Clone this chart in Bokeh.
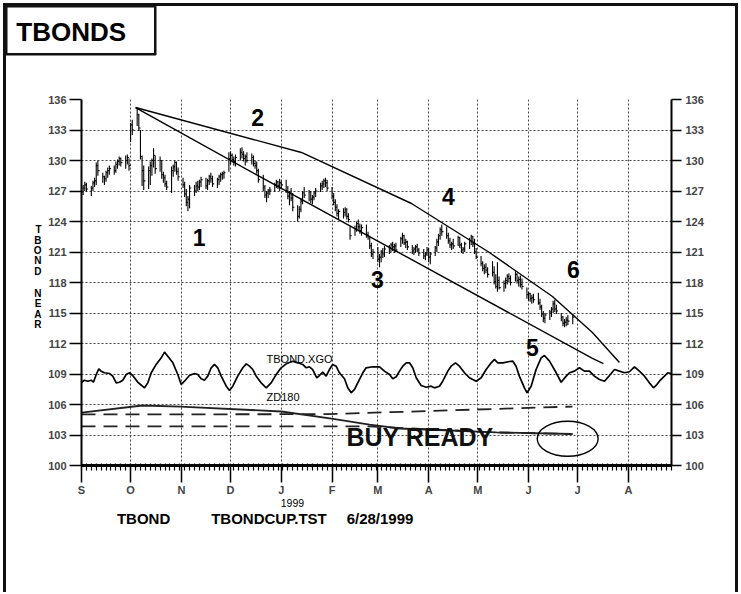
import pandas as pd
from bokeh.plotting import figure
from bokeh.models import Range1d, FixedTicker, LinearAxis, Label, Grid
from bokeh.embed import file_html
from bokeh.resources import INLINE

FONT = "Liberation Sans"
ORIGIN = pd.Timestamp("1998-09-01")

MONTH_STARTS = ["1998-09-01", "1998-10-01", "1998-11-01", "1998-12-01", "1999-01-01", "1999-02-01",
                "1999-03-01", "1999-04-01", "1999-05-01", "1999-06-01", "1999-07-01", "1999-08-01"]
MONTH_LABELS = ["S", "O", "N", "D", "J", "F", "M", "A", "M", "J", "J", "A"]
Y_TICKS = list(range(100, 137, 3))

# daily TBOND bars, Sep 1 1998 .. Jun 28 1999 (one row per month)
HIGH = [
    127.2, 127.6, 127.9, 127.8, 127.5, 128.0, 128.3, 129.8, 130.0, 128.8, 128.5, 129.0, 129.3, 129.5, 129.5, 129.9, 130.1, 130.4, 130.3, 130.5, 130.6, 130.2,
    133.7, 134.0, 135.2, 134.6, 133.0, 130.5, 129.5, 129.4, 129.9, 130.2, 131.2, 130.5, 130.4, 130.0, 128.9, 128.6, 128.0, 129.4, 129.6, 130.0, 129.9, 129.3,
    128.3, 127.9, 127.2, 126.5, 127.6, 127.6, 127.9, 128.0, 128.1, 128.4, 128.3, 128.2, 128.6, 128.8, 128.5, 128.3, 128.6, 128.8, 128.9, 129.0, 130.8,
    130.9, 130.7, 130.4, 130.6, 131.2, 131.3, 130.9, 130.6, 130.8, 130.7, 130.5, 130.0, 129.9, 129.2, 128.6, 127.6, 127.0, 127.2, 127.4, 127.8, 128.1, 128.0, 128.2,
    128.0, 128.1, 127.5, 127.0, 127.3, 126.8, 125.6, 125.5, 126.3, 127.0, 127.4, 127.1, 127.0, 126.6, 127.0, 127.3, 127.8, 128.0, 128.2, 128.3, 128.1,
    127.4, 126.8, 126.2, 125.7, 125.2, 125.3, 125.4, 125.3, 124.8, 123.5, 123.6, 124.0, 124.2, 123.8, 123.7, 123.7, 123.0, 122.6, 121.9, 121.3,
    121.5, 120.8, 121.2, 121.4, 121.6, 121.7, 121.9, 122.0, 121.8, 121.9, 122.5, 122.9, 122.7, 122.3, 122.1, 121.7, 121.5, 121.7, 121.8, 121.4, 121.3, 121.0, 121.5,
    121.4, 121.0, 121.6, 122.3, 122.8, 123.4, 123.7, 123.5, 122.9, 122.4, 122.0, 122.3, 122.6, 122.5, 121.9, 121.5, 122.0, 122.4, 122.7, 122.6, 122.3, 121.4,
    120.6, 120.1, 119.8, 119.9, 119.5, 120.1, 119.6, 118.8, 120.0, 118.6, 118.2, 118.5, 118.8, 118.9, 118.7, 119.1, 118.9, 118.6, 118.7, 118.4, 117.5,
    117.1, 117.0, 116.8, 116.9, 117.0, 116.4, 115.8, 115.2, 115.0, 115.3, 115.6, 116.2, 116.3, 115.8, 115.0, 114.7, 114.4, 114.6, 114.8, 114.9,
]
LOW = [
    126.3, 126.6, 127.0, 126.9, 126.5, 127.0, 127.4, 127.6, 128.5, 127.8, 127.6, 127.9, 128.3, 128.6, 128.6, 128.8, 129.2, 129.5, 129.4, 129.2, 129.6, 129.0,
    131.8, 132.5, 133.4, 132.9, 130.1, 127.5, 127.1, 127.2, 127.6, 128.5, 129.3, 128.7, 128.9, 128.2, 127.8, 127.4, 127.1, 126.8, 128.4, 128.9, 128.6, 128.0,
    127.3, 126.4, 125.5, 125.0, 125.3, 126.5, 126.8, 127.0, 127.1, 127.4, 127.2, 127.1, 127.6, 127.8, 127.4, 127.3, 127.6, 127.9, 128.1, 128.2, 128.9,
    129.6, 129.8, 129.5, 129.4, 130.0, 130.2, 129.9, 129.5, 129.8, 129.6, 129.4, 129.2, 128.7, 127.8, 127.0, 126.3, 125.9, 126.3, 126.6, 126.9, 127.3, 127.2, 127.0,
    127.2, 126.8, 126.2, 125.6, 126.0, 125.0, 124.0, 124.3, 124.9, 125.7, 126.3, 126.0, 125.8, 125.7, 126.1, 126.4, 126.9, 127.1, 127.3, 127.4, 127.0,
    126.2, 125.6, 125.0, 124.5, 124.2, 124.3, 124.5, 124.2, 123.9, 122.2, 122.6, 123.0, 123.2, 122.8, 122.6, 122.4, 122.2, 121.3, 120.5, 120.3,
    120.0, 119.5, 120.0, 120.4, 120.5, 120.8, 121.0, 121.1, 120.9, 121.0, 121.5, 121.8, 121.7, 121.4, 121.2, 120.8, 120.7, 120.9, 121.0, 120.6, 120.3, 120.2, 120.6,
    120.0, 119.8, 120.6, 121.0, 121.6, 122.2, 122.6, 122.3, 121.8, 121.4, 121.2, 121.3, 121.6, 121.4, 120.9, 120.8, 121.0, 121.3, 121.7, 121.5, 120.8, 120.3,
    119.6, 119.1, 118.8, 118.9, 118.5, 118.6, 117.8, 117.4, 117.1, 117.3, 117.1, 117.4, 117.8, 118.0, 117.7, 118.1, 117.9, 117.6, 117.5, 117.3, 116.4,
    116.2, 116.1, 115.9, 116.0, 115.8, 115.3, 114.6, 114.1, 114.0, 114.3, 114.6, 115.0, 115.1, 114.9, 114.2, 113.7, 113.6, 113.7, 113.8, 113.9,
]
CLOSE = [
    126.9, 127.3, 127.6, 127.2, 127.3, 127.8, 128.0, 129.5, 129.0, 128.4, 128.2, 128.8, 129.0, 129.2, 129.0, 129.6, 129.9, 130.2, 129.8, 130.0, 130.3, 129.5,
    133.5, 133.0, 134.5, 133.2, 130.4, 129.0, 128.0, 129.0, 129.5, 130.0, 130.5, 129.2, 130.0, 128.6, 128.3, 127.7, 127.4, 129.0, 129.4, 129.8, 128.9, 128.4,
    127.6, 126.7, 125.9, 126.2, 127.3, 127.0, 127.5, 127.4, 127.9, 128.1, 127.5, 128.0, 128.4, 128.2, 127.7, 128.1, 128.4, 128.6, 128.7, 128.8, 130.2,
    130.5, 130.1, 129.9, 130.3, 130.8, 130.6, 130.2, 130.4, 130.0, 130.3, 129.7, 129.5, 129.0, 128.1, 127.4, 126.6, 126.8, 127.0, 127.1, 127.6, 127.9, 127.5, 127.8,
    127.6, 127.0, 126.5, 126.8, 126.3, 125.4, 124.5, 125.2, 126.0, 126.8, 126.6, 126.9, 126.2, 126.4, 126.8, 127.0, 127.5, 127.7, 128.0, 127.8, 127.3,
    126.5, 125.9, 125.4, 124.8, 125.0, 124.9, 125.2, 124.5, 124.2, 122.6, 123.3, 123.8, 123.5, 123.1, 123.4, 122.7, 122.5, 121.6, 120.8, 121.0,
    120.3, 120.5, 121.0, 120.8, 121.3, 121.4, 121.7, 121.5, 121.6, 121.2, 122.3, 122.6, 121.9, 122.0, 121.5, 121.1, 121.3, 121.5, 121.2, 120.9, 120.6, 120.8, 121.2,
    120.5, 120.8, 121.4, 122.0, 122.6, 123.2, 123.0, 122.6, 122.1, 121.7, 121.8, 121.6, 122.4, 121.7, 121.2, 121.3, 121.8, 122.1, 122.5, 121.8, 121.0, 120.5,
    119.9, 119.4, 119.5, 119.2, 118.8, 119.0, 118.1, 117.6, 118.2, 117.5, 117.9, 118.2, 118.6, 118.4, 118.0, 118.8, 118.2, 118.3, 117.8, 117.6, 116.8,
    116.9, 116.4, 116.5, 116.3, 116.0, 115.6, 114.9, 114.5, 114.8, 115.1, 115.4, 115.9, 115.4, 115.2, 114.6, 114.0, 114.1, 114.3, 114.2, 114.6,
]

# TBOND.XGO oscillator (days since Sep 1 1998, value)
XGO_DAY = [0, 1.8, 3.9, 5.9, 7.3, 9.0, 10.6, 12.0, 14.0, 17.1, 19.1, 21.2, 23.2, 25.2, 27.3, 29.3, 31.3, 34.4, 38.5, 40.5,
           42.6, 45.6, 48.7, 50.7, 52.7, 55.8, 58.8, 60.9, 62.9, 65.9, 69.0, 71.0, 73.1, 75.1, 77.1, 79.2, 81.2, 83.2, 85.3, 88.4,
           90.4, 92.4, 95.4, 98.5, 100.6, 102.6, 104.6, 106.7, 109.7, 112.8, 115.8, 118.9, 121.9, 125.0, 129.0, 132.1, 135.1, 137.2, 139.2, 141.2,
           143.7, 145.3, 147.3, 149.4, 151.4, 153.4, 155.5, 157.5, 160.6, 162.6, 164.7, 166.7, 168.7, 171.8, 173.8, 177.9, 182.0, 185.0, 188.1, 190.1,
           192.2, 194.2, 196.2, 198.3, 200.3, 202.3, 204.4, 207.4, 210.5, 213.5, 215.5, 218.6, 220.6, 223.7, 225.7, 228.4, 230.8, 233.9, 236.9, 241.0,
           244.1, 247.1, 250.2, 252.2, 254.2, 257.3, 261.3, 263.4, 265.4, 267.4, 270.5, 272.1, 274.6, 277.6, 280.7, 282.7, 285.8, 289.9, 292.9, 296.0,
           298.0, 301.0, 304.1, 307.1, 310.2, 313.2, 316.3, 319.4, 322.4, 325.5, 328.5, 331.6, 334.6, 337.7, 340.7, 343.8, 346.8, 349.3, 350.9, 352.9,
           356.0, 358.0, 360.0]
XGO_VAL = [108.19, 108.39, 108.29, 108.39, 108.19, 108.95, 109.51, 109.28, 109.12, 109.05, 108.79, 108.13, 108.19, 108.39, 108.95, 109.12, 108.85, 108.19, 107.64, 108.13,
           109.12, 109.94, 110.59, 111.15, 110.75, 110.10, 108.95, 107.97, 108.29, 108.85, 109.05, 108.95, 108.53, 108.39, 108.79, 109.61, 109.94, 109.61, 108.79, 107.80,
           107.38, 107.80, 108.79, 109.61, 110.00, 109.77, 109.44, 108.79, 108.13, 107.64, 108.13, 108.95, 109.61, 110.00, 110.26, 110.10, 109.94, 109.61, 109.71, 109.44,
           108.63, 108.85, 109.18, 108.79, 109.44, 109.94, 109.77, 109.12, 108.53, 107.64, 107.15, 107.48, 108.13, 109.12, 109.61, 109.71, 109.71, 109.28, 108.95, 108.53,
           108.73, 109.28, 109.77, 110.10, 110.10, 109.61, 108.63, 107.87, 107.70, 107.80, 107.64, 107.80, 108.29, 109.28, 109.77, 110.10, 109.77, 109.12, 108.63, 108.29,
           108.63, 109.44, 110.10, 110.43, 110.10, 110.10, 110.23, 110.26, 109.77, 108.79, 107.64, 107.15, 107.80, 109.44, 110.59, 110.82, 110.26, 109.12, 108.19, 108.79,
           109.12, 109.28, 109.61, 109.28, 109.28, 108.79, 108.46, 108.29, 108.85, 109.44, 109.28, 109.12, 109.22, 109.71, 109.28, 108.79, 108.13, 107.64, 107.87, 108.29,
           108.79, 109.12, 109.05]

# trend lines drawn from the October top
UPPER_DAY = [33.0, 134.3, 201.5, 249.1, 287.6, 312.0, 328.5]
UPPER_VAL = [135.21, 130.79, 125.77, 120.95, 116.62, 113.08, 110.13]
LOWER_DAY = [33.0, 108.7, 175.9, 312.0, 318.7]
LOWER_VAL = [135.21, 128.43, 122.52, 110.53, 110.03]

# ZD180 solid line and the two dashed bands
ZD_DAY = [0, 37.2, 60.5, 122.1, 152.7, 175.9, 194.2, 253.4, 299.8]
ZD_VAL = [105.20, 105.90, 105.80, 105.31, 104.62, 104.03, 103.64, 103.25, 103.10]
DASH1_DAY = [0, 150.0, 299.8]
DASH1_VAL = [105.02, 105.05, 105.80]
DASH2_DAY = [0, 175.9, 253.4, 299.8]
DASH2_VAL = [103.84, 103.84, 103.25, 103.10]

WAVE_LABELS = ["1", "2", "3", "4", "5", "6"]
WAVE_DAY = [71.8, 107.5, 180.7, 224.1, 275.4, 300.4]
WAVE_VAL = [122.43, 134.23, 118.30, 126.46, 111.61, 119.28]

# axis caption letters (stacked), header and footer texts
YLABEL_LETTERS = ["T", "B", "O", "N", "D", "N", "E", "A", "R"]
YLABEL_POS = [123.21, 122.18, 121.15, 120.12, 119.08, 116.92, 115.89, 114.85, 113.82]
HEADER_TEXT = ["TBONDS\u00a0\u00a0\u00a0"]
HEADER_POS = [0.3]
YEAR_TEXT = ["1999"]
YEAR_POS = [128.8]
FOOTER_TEXT = ["TBOND", "TBONDCUP.TST", "6/28/1999"]
FOOTER_POS = [37.9, 114.5, 182.3]


def day_of(d):
    return (pd.Timestamp(d) - ORIGIN).days


dates = pd.bdate_range("1998-09-01", "1999-06-28")
bar_day = [(d - ORIGIN).days for d in dates]
n = min(len(bar_day), len(HIGH), len(LOW), len(CLOSE))
bar_day = bar_day[:n]

p = figure(width=738, height=592, x_range=Range1d(0, 360.3), y_range=Range1d(100, 136),
           output_backend="svg", toolbar_location=None, title=None,
           x_axis_type=None, y_axis_type=None,
           min_border_left=81, min_border_right=67, min_border_top=99, min_border_bottom=127)
p.outline_line_color = None
p.background_fill_color = "white"
p.border_fill_color = None

# page frame (left, top, right) and the header box, drawn behind the transparent canvas border
LINE = "linear-gradient(#111,#111)"
p.styles = {
    "background": ", ".join([
        f"{LINE} 3px 3px / 3px 100% no-repeat",
        f"{LINE} 3px 3px / calc(100% - 3px) 3px no-repeat",
        f"{LINE} right 0px top 3px / 3px 100% no-repeat",
        f"{LINE} 5px 5px / 151px 2.5px no-repeat",
        f"{LINE} 5px 53px / 151px 2.5px no-repeat",
        f"{LINE} 5px 5px / 2.5px 50px no-repeat",
        f"{LINE} 153.5px 5px / 2.5px 50px no-repeat",
        "white",
    ]),
}

month_ticks = [day_of(m) for m in MONTH_STARTS]


def style_text_axis(ax, size, bold=True, standoff=0):
    ax.axis_line_color = None
    ax.major_tick_line_color = None
    ax.minor_tick_line_color = None
    ax.major_tick_out = 0
    ax.major_tick_in = 0
    ax.minor_tick_out = 0
    ax.minor_tick_in = 0
    ax.major_label_standoff = standoff
    ax.major_label_text_font = FONT
    ax.major_label_text_font_size = size
    ax.major_label_text_font_style = "bold" if bold else "normal"
    ax.major_label_text_color = "black"


header_axis = LinearAxis(ticker=FixedTicker(ticks=HEADER_POS, minor_ticks=[]))
header_axis.major_label_overrides = {t: s for t, s in zip(HEADER_POS, HEADER_TEXT)}
style_text_axis(header_axis, "26px", bold=True, standoff=53)
p.add_layout(header_axis, "above")

xaxis = LinearAxis(ticker=FixedTicker(ticks=month_ticks, minor_ticks=list(range(0, 361, 3))))
xaxis.major_label_overrides = {t: lab for t, lab in zip(month_ticks, MONTH_LABELS)}
xaxis.axis_line_width = 3
xaxis.major_tick_out = 17
xaxis.major_tick_in = 0
xaxis.major_tick_line_width = 1.5
xaxis.minor_tick_out = 5
xaxis.minor_tick_in = 2
xaxis.minor_tick_line_width = 1.2
xaxis.major_label_standoff = 1
xaxis.major_label_text_font = FONT
xaxis.major_label_text_font_size = "11px"
xaxis.major_label_text_font_style = "bold"
p.add_layout(xaxis, "below")

year_axis = LinearAxis(ticker=FixedTicker(ticks=YEAR_POS, minor_ticks=[]))
year_axis.major_label_overrides = {t: s for t, s in zip(YEAR_POS, YEAR_TEXT)}
style_text_axis(year_axis, "10.5px", bold=False, standoff=0)
p.add_layout(year_axis, "below")

footer_axis = LinearAxis(ticker=FixedTicker(ticks=FOOTER_POS, minor_ticks=[]))
footer_axis.major_label_overrides = {t: s for t, s in zip(FOOTER_POS, FOOTER_TEXT)}
style_text_axis(footer_axis, "15px", bold=True, standoff=0)
p.add_layout(footer_axis, "below")

for side, standoff, tick_out in (("left", 3, 12), ("right", 4, 10)):
    ax = LinearAxis(ticker=FixedTicker(ticks=Y_TICKS, minor_ticks=[]))
    ax.axis_line_width = 2
    ax.major_tick_out = tick_out
    ax.major_tick_in = 0
    ax.major_tick_line_width = 1.5
    ax.minor_tick_out = 0
    ax.major_label_standoff = standoff
    ax.major_label_text_font = FONT
    ax.major_label_text_font_size = "11px"
    ax.major_label_text_font_style = "bold"
    p.add_layout(ax, side)

letter_axis = LinearAxis(ticker=FixedTicker(ticks=YLABEL_POS, minor_ticks=[]))
letter_axis.major_label_overrides = {t: s for t, s in zip(YLABEL_POS, YLABEL_LETTERS)}
style_text_axis(letter_axis, "10px", bold=True, standoff=4)
letter_axis.major_label_text_align = "center"
p.add_layout(letter_axis, "left")

p.add_layout(Grid(dimension=0, ticker=FixedTicker(ticks=month_ticks[1:]),
                  grid_line_color="#444444", grid_line_dash="2 2", grid_line_width=1))
p.add_layout(Grid(dimension=1, ticker=FixedTicker(ticks=Y_TICKS[1:]),
                  grid_line_color="#444444", grid_line_dash="2 2", grid_line_width=1))

# price bars
p.segment(x0=bar_day, y0=LOW[:n], x1=bar_day, y1=HIGH[:n], line_color="black", line_width=1.1)
p.segment(x0=bar_day, y0=CLOSE[:n], x1=[d + 1.0 for d in bar_day], y1=CLOSE[:n],
          line_color="black", line_width=1.1)

p.line(UPPER_DAY, UPPER_VAL, line_color="black", line_width=1.4)
p.line(LOWER_DAY, LOWER_VAL, line_color="black", line_width=1.4)
p.line(XGO_DAY, XGO_VAL, line_color="black", line_width=1.7)
p.line(ZD_DAY, ZD_VAL, line_color="#222222", line_width=1.8)
p.line(DASH1_DAY, DASH1_VAL, line_color="#222222", line_width=1.8, line_dash="14 8")
p.line(DASH2_DAY, DASH2_VAL, line_color="#222222", line_width=1.8, line_dash="14 8")
p.ellipse(x=[296.9], y=[102.63], width=37.2, height=3.44, fill_color=None,
          line_color="black", line_width=1.4)

for t, dx, vy in zip(WAVE_LABELS, WAVE_DAY, WAVE_VAL):
    p.add_layout(Label(x=dx, y=vy, text=t, text_font=FONT, text_font_size="23px",
                       text_font_style="bold", text_align="center", text_baseline="middle",
                       text_color="black"))

p.add_layout(Label(x=161.8, y=102.76, text="BUY READY", text_font=FONT, text_font_size="25px",
                   text_font_style="bold", text_align="left", text_baseline="middle",
                   text_color="#111111"))
p.add_layout(Label(x=113.0, y=110.43, text="TBOND.XGO", text_font=FONT, text_font_size="11px",
                   text_align="left", text_baseline="middle", text_color="black"))
p.add_layout(Label(x=113.0, y=106.69, text="ZD180", text_font=FONT, text_font_size="11px",
                   text_align="left", text_baseline="middle", text_color="black"))

open("out.html", "w").write(file_html(p, INLINE))
